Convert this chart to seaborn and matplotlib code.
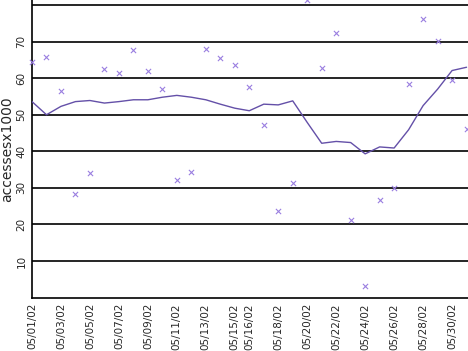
import matplotlib
matplotlib.use("Agg")
import matplotlib.pyplot as plt
import seaborn as sns
import pandas as pd

days = list(range(1, 32))
accesses = [64.5, 65.9, 56.6, 28.3, 34.0, 62.5, 61.4, 67.7, 62.0, 57.0,
            32.1, 34.3, 68.0, 65.5, 63.6, 57.6, 47.2, 23.6, 31.3, 81.3,
            62.8, 72.4, 21.2, 3.1, 26.6, 29.9, 58.4, 76.2, 70.2, 59.5, 46.2]
trend = [53.6, 50.0, 52.3, 53.6, 53.9, 53.2, 53.6, 54.1, 54.1, 54.8,
         55.3, 54.8, 54.1, 52.9, 51.8, 51.1, 52.9, 52.7, 53.8, 47.9,
         42.2, 42.7, 42.4, 39.3, 41.2, 40.9, 45.9, 52.5, 57.0, 62.1, 63.0]
tick_days = [1, 3, 5, 7, 9, 11, 13, 15, 16, 18, 20, 22, 24, 26, 28, 30]
tick_labels = ["05/%02d/02" % d for d in tick_days]
y_ticks = [10, 20, 30, 40, 50, 60, 70, 80]
y_labels = ["10", "20", "30", "40", "50", "60", "70", ""]

df = pd.DataFrame({"day": days, "accesses": accesses, "trend": trend})

sns.set_style("white")
plt.rcParams['font.family'] = ['DejaVu Sans']

fig = plt.figure(figsize=(4.68, 3.51), dpi=100)
ax = fig.add_axes([32 / 468, (351 - 297.5) / 351, 1 - 32 / 468, 297.5 / 351])

for yv in y_ticks:
    ax.axhline(yv, color="black", lw=1.2, zorder=1)

sns.scatterplot(data=df, x="day", y="accesses", marker="x", color="#9a7ee0",
                s=14, linewidth=0.8, ax=ax, zorder=3, clip_on=False)
sns.lineplot(data=df, x="day", y="trend", color="#6450a8", lw=1.0, ax=ax, zorder=4)

ax.set_xlim(1, 31.1)
ax.set_ylim(0, 81.4)
ax.set_xticks(tick_days)
ax.set_xticklabels(tick_labels, rotation=90, fontsize=7.5)
ax.set_yticks(y_ticks)
ax.set_yticklabels(y_labels, rotation=90, fontsize=7.5, va="center")
ax.tick_params(length=0, pad=4)
ax.set_xlabel("")
ax.set_ylabel("accessesx1000", fontsize=10, labelpad=2)

for s in ["top", "right"]:
    ax.spines[s].set_visible(False)
for s in ["left", "bottom"]:
    ax.spines[s].set_color("black")
    ax.spines[s].set_linewidth(1.2)

fig.savefig("out.png", dpi=100)
